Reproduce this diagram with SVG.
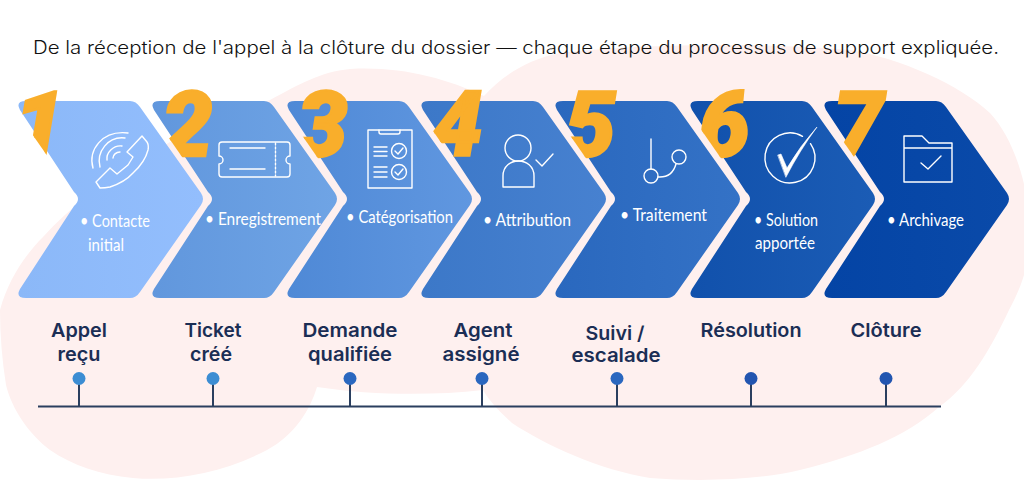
<svg xmlns="http://www.w3.org/2000/svg" width="1024" height="480" viewBox="0 0 1024 480">
<style>
.title{font:300 18px Inter,"Noto Sans",sans-serif;fill:#111}
.num{font:italic 900 90px Roboto,"Liberation Sans",sans-serif;fill:#F9AE2B;stroke:#F9AE2B;stroke-width:2.500px}
.lab{font:400 17px Lato,"Open Sans",sans-serif;fill:#fff}
.cap{font:600 19px Inter,"Noto Sans",sans-serif;fill:#1B2E55;text-anchor:middle}
.ic{fill:none;stroke:#fff;stroke-width:1.400;stroke-linecap:round;stroke-linejoin:round}
.stem{stroke:#2A3F5F;stroke-width:2;fill:none}
</style>
<defs>
<path id="chev" d="M8 101H112Q118 101 122 107L183 193Q187 199 183 205L122 292Q118 298 112 298H8Q-3 298 2 289L56 206Q64 199 56 192L2 110Q-3 101 8 101Z"/>
<clipPath id="numclip"><path d="M-26 60H180V200H60L-20 85Z"/></clipPath>
<linearGradient id="g1"><stop offset="0" stop-color="#8BB8F8"/><stop offset="1" stop-color="#93BEFD"/></linearGradient>
<linearGradient id="g2"><stop offset="0" stop-color="#6197DD"/><stop offset="1" stop-color="#6FA4E5"/></linearGradient>
<linearGradient id="g3"><stop offset="0" stop-color="#4F89D6"/><stop offset="1" stop-color="#6097E0"/></linearGradient>
<linearGradient id="g4"><stop offset="0" stop-color="#3C78C8"/><stop offset="1" stop-color="#4781D0"/></linearGradient>
<linearGradient id="g5"><stop offset="0" stop-color="#2A68BE"/><stop offset="1" stop-color="#3472C6"/></linearGradient>
<linearGradient id="g6"><stop offset="0" stop-color="#1151AC"/><stop offset="1" stop-color="#1B5CB5"/></linearGradient>
<linearGradient id="g7"><stop offset="0" stop-color="#0444A5"/><stop offset="1" stop-color="#0A4AA9"/></linearGradient>
</defs>
<rect width="1024" height="480" fill="#fff"/>
<path id="blob" fill="#FEF0EF" d="M0 310C8 280 25 255 43 237C100 175 190 125 270 100C300 84 320 72 350 69C400 66 445 78 484 96C500 78 525 60 560 53C640 44 760 42 850 50C900 58 960 85 990 113C1015 140 1030 190 1030 235C1030 265 1020 290 1009 310C990 350 970 385 939 407C905 437 860 455 800 470C760 480 700 482 650 478C600 470 545 445 512 423C500 412 490 402 483 390C430 396 370 395 317 387C310 410 295 435 267 450C225 472 175 482 133 478C100 475 72 465 50 450C30 435 12 410 6 385C2 360 0 335 0 310Z"/>
<text class="title" x="33" y="54" textLength="966" lengthAdjust="spacingAndGlyphs">De la réception de l'appel à la clôture du dossier — chaque étape du processus de support expliquée.</text>
<g id="step1" transform="translate(18 0)"><use href="#chev" fill="url(#g1)"/><text class="num" x="-4" y="156" clip-path="url(#numclip)">1</text></g>
<g id="step2" transform="translate(152 0)"><use href="#chev" fill="url(#g2)"/><text class="num" x="10" y="156" clip-path="url(#numclip)">2</text></g>
<g id="step3" transform="translate(287 0)"><use href="#chev" fill="url(#g3)"/><text class="num" x="10" y="156" clip-path="url(#numclip)">3</text></g>
<g id="step4" transform="translate(421 0)"><use href="#chev" fill="url(#g4)"/><text class="num" x="11" y="156" clip-path="url(#numclip)">4</text></g>
<g id="step5" transform="translate(555 0)"><use href="#chev" fill="url(#g5)"/><text class="num" x="10" y="156" clip-path="url(#numclip)">5</text></g>
<g id="step6" transform="translate(690 0)"><use href="#chev" fill="url(#g6)"/><text class="num" x="9" y="156" clip-path="url(#numclip)">6</text></g>
<g id="step7" transform="translate(824 0)"><use href="#chev" fill="url(#g7)"/><text class="num" x="9" y="156" clip-path="url(#numclip)">7</text></g>
<g id="icon1" class="ic"><path d="M100 188Q105 188 110 187Q125 182 133 173Q145 162 148 150Q149 145 147 142L142 136L127 152L133 157L128 165L117 174L110 168L96 182Z"/><path d="M93 168C88 150 102 130 128 133M100 167C96 152 108 136 125 138M107 160C106 153 113 145 122 146M113 158C113 155 116 152 120 152"/></g>
<g id="icon2" class="ic"><path d="M222 142H287Q290 142 290 145V156A4 4 0 0 0 290 164V174Q290 177 287 177H222Q219 177 219 174V164A4 4 0 0 0 219 156V145Q219 142 222 142Z"/><path d="M230 148H265M230 169H265"/><path d="M275.500 143V176" stroke-dasharray="2 2"/></g>
<g id="icon3" class="ic"><path d="M368 130H412V188H368Z"/><path d="M379 130V132Q379 134 381 134H398Q400 134 400 132V130"/><path d="M374 147H387M374 151.500H387M374 156H387M374 167H387M374 172H387M374 177H387"/><circle cx="399" cy="151" r="7.500"/><circle cx="399" cy="172" r="7.500"/><path d="M395 151L398 154L403 148M395 172L398 175L403 169"/></g>
<g id="icon4" class="ic"><circle cx="518" cy="148" r="13"/><path d="M503 187V176C503 156 534 156 534 176V187Z"/><path d="M536 160L542 166L553 154"/></g>
<g id="icon5" class="ic"><path d="M651 139V169"/><circle cx="651" cy="176" r="7"/><circle cx="679" cy="157" r="7"/><path d="M658 177Q672 178 676 164"/></g>
<g id="icon6" class="ic"><path d="M810.500 143.700A25 25 0 1 1 802.500 136.300"/><path d="M778 155L781 154L787 168Q800 146 817 127Q800 150 786 177Z" fill="#fff" stroke-width=".6"/></g>
<g id="icon7" class="ic"><path d="M904 148V136H922L929 143H952V182H904V148H952V143"/><path d="M921 163L928 169L941 156"/></g>
<g id="labels">
<text class="lab" x="80" y="227" textLength="70" lengthAdjust="spacingAndGlyphs">• Contacte</text>
<text class="lab" x="88" y="251" textLength="36" lengthAdjust="spacingAndGlyphs">initial</text>
<text class="lab" x="205" y="225" textLength="116" lengthAdjust="spacingAndGlyphs">• Enregistrement</text>
<text class="lab" x="346" y="223" textLength="107" lengthAdjust="spacingAndGlyphs">• Catégorisation</text>
<text class="lab" x="483" y="226" textLength="88" lengthAdjust="spacingAndGlyphs">• Attribution</text>
<text class="lab" x="620" y="221" textLength="87" lengthAdjust="spacingAndGlyphs">• Traitement</text>
<text class="lab" x="754" y="226" textLength="64" lengthAdjust="spacingAndGlyphs">• Solution</text>
<text class="lab" x="755" y="249" textLength="60" lengthAdjust="spacingAndGlyphs">apportée</text>
<text class="lab" x="887" y="226" textLength="77" lengthAdjust="spacingAndGlyphs">• Archivage</text>
</g>
<g id="caps">
<text class="cap" x="79" y="337" textLength="56" lengthAdjust="spacingAndGlyphs">Appel</text><text class="cap" x="79" y="361" textLength="43" lengthAdjust="spacingAndGlyphs">reçu</text>
<text class="cap" x="213" y="337" textLength="57" lengthAdjust="spacingAndGlyphs">Ticket</text><text class="cap" x="211" y="361" textLength="42" lengthAdjust="spacingAndGlyphs">créé</text>
<text class="cap" x="350" y="337" textLength="95" lengthAdjust="spacingAndGlyphs">Demande</text><text class="cap" x="350" y="361" textLength="84" lengthAdjust="spacingAndGlyphs">qualifiée</text>
<text class="cap" x="483" y="337" textLength="59" lengthAdjust="spacingAndGlyphs">Agent</text><text class="cap" x="481" y="361" textLength="77" lengthAdjust="spacingAndGlyphs">assigné</text>
<text class="cap" x="615" y="340" textLength="59" lengthAdjust="spacingAndGlyphs">Suivi /</text><text class="cap" x="616" y="362" textLength="89" lengthAdjust="spacingAndGlyphs">escalade</text>
<text class="cap" x="751" y="337" textLength="101" lengthAdjust="spacingAndGlyphs">Résolution</text>
<text class="cap" x="886" y="337" textLength="71" lengthAdjust="spacingAndGlyphs">Clôture</text>
</g>
<g id="connectors">
<path class="stem" d="M38 406.500H941M79 378V406M213 378V406M350 378V406M482 378V406M617 378V406M751 378V406M886 378V406"/>
</g>
<g id="dots">
<circle cx="79" cy="378.500" r="6.500" fill="#3C8DD3"/><circle cx="213" cy="378.500" r="6.500" fill="#3C8DD3"/><circle cx="350" cy="378.500" r="6.500" fill="#2A67BF"/><circle cx="482" cy="378.500" r="6.500" fill="#2A67BF"/><circle cx="617" cy="378.500" r="6.500" fill="#2A67BF"/><circle cx="751" cy="378.500" r="6.500" fill="#2255B0"/><circle cx="886" cy="378.500" r="6.500" fill="#2255B0"/>
</g>
</svg>
